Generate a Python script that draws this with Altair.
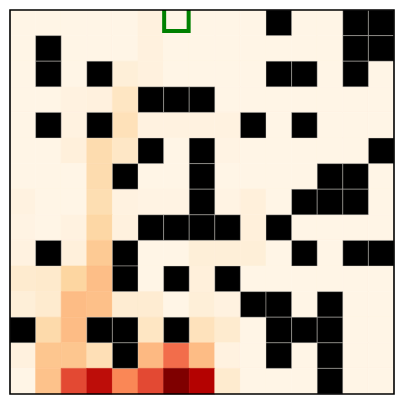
import altair as alt
import pandas as pd

# wall layout ('#' = wall, '.' = free)
walls = [
    "..........#..##",
    ".#...........##",
    ".#.#......##.#.",
    ".....###.......",
    ".#.#.....#.#...",
    ".....#.#......#",
    "....#..#....##.",
    ".......#...###.",
    ".....####.#....",
    ".#..#......#.##",
    "....#.#.#......",
    ".........##.#..",
    "#..##.#...###..",
    "....#.....#.#..",
    "............#..",
]

# visitation intensity per cell (walls ignored)
visits = [
    [2, 2, 2, 2, 2, 5, 2, 2, 2, 2, 0, 2, 2, 0, 0],
    [2, 0, 2, 2, 2, 5, 2, 2, 2, 2, 2, 2, 2, 0, 0],
    [2, 0, 2, 0, 7, 5, 2, 2, 2, 2, 0, 0, 2, 0, 2],
    [2, 2, 4, 5, 14, 0, 0, 0, 2, 2, 2, 2, 2, 2, 2],
    [2, 0, 4, 0, 17, 4, 4, 4, 4, 0, 2, 0, 2, 2, 2],
    [2, 2, 6, 20, 13, 0, 2, 0, 3, 2, 2, 2, 2, 2, 0],
    [2, 2, 2, 20, 0, 2, 2, 0, 2, 2, 2, 2, 0, 0, 2],
    [4, 2, 2, 19, 4, 3, 3, 0, 3, 6, 2, 0, 0, 0, 2],
    [3, 2, 4, 23, 5, 0, 0, 0, 0, 6, 0, 2, 2, 2, 2],
    [4, 0, 6, 30, 0, 2, 2, 7, 7, 7, 2, 0, 2, 0, 0],
    [10, 11, 24, 36, 0, 2, 0, 6, 0, 2, 2, 2, 2, 2, 2],
    [7, 10, 37, 35, 9, 9, 2, 7, 4, 0, 0, 2, 0, 2, 2],
    [0, 21, 37, 0, 0, 14, 0, 16, 10, 2, 0, 0, 0, 2, 2],
    [5, 32, 32, 18, 0, 38, 60, 37, 4, 2, 0, 2, 0, 2, 2],
    [2, 34, 69, 84, 52, 69, 100, 87, 10, 2, 2, 2, 0, 2, 2],
]

goal_col = [6]
goal_row = [0]

orrd = ["#fff7ec", "#fee8c8", "#fdd49e", "#fdbb84", "#fc8d59",
        "#ef6548", "#d7301f", "#b30000", "#7f0000"]
stops = [0, 12.5, 25, 37.5, 50, 62.5, 75, 87.5, 100]

rows = []
for r, line in enumerate(walls):
    for c, ch in enumerate(line):
        rows.append({"row": r, "col": c, "value": visits[r][c], "wall": ch == "#"})
df = pd.DataFrame(rows)
goal = pd.DataFrame({"row": goal_row, "col": goal_col})

xs = alt.X("col:O", axis=None, scale=alt.Scale(domain=list(range(15)), paddingInner=0, paddingOuter=0))
ys = alt.Y("row:O", axis=None, scale=alt.Scale(domain=list(range(15)), paddingInner=0, paddingOuter=0))
cscale = alt.Scale(domain=stops, range=orrd, interpolate="rgb")

heat = alt.Chart(df).transform_filter("!datum.wall").mark_rect(strokeWidth=0.6).encode(
    x=xs, y=ys,
    color=alt.Color("value:Q", scale=cscale, legend=None),
    stroke=alt.Stroke("value:Q", scale=cscale, legend=None),
)
wall_layer = alt.Chart(df).transform_filter("datum.wall").mark_rect(
    color="black", stroke="#d9d4cc", strokeWidth=0.4
).encode(x=xs, y=ys)
goal_layer = alt.Chart(goal).mark_point(
    shape="square", filled=False, stroke="green", strokeWidth=4, size=600, yOffset=-4, opacity=1, clip=True
).encode(x=xs, y=ys)
frame = alt.Chart(goal).mark_rect(fill=None, stroke="black", strokeWidth=1.6).encode(
    x=alt.value(0), x2=alt.value(384), y=alt.value(0), y2=alt.value(384)
)

chart = alt.layer(heat, wall_layer, goal_layer, frame).properties(
    width=384, height=384,
    padding={"left": 10, "top": 10, "right": 11, "bottom": 11},
    autosize=alt.AutoSizeParams(type="none"),
).configure_view(stroke=None)

chart.save("out.html", embed_options={"renderer": "svg", "actions": False})
